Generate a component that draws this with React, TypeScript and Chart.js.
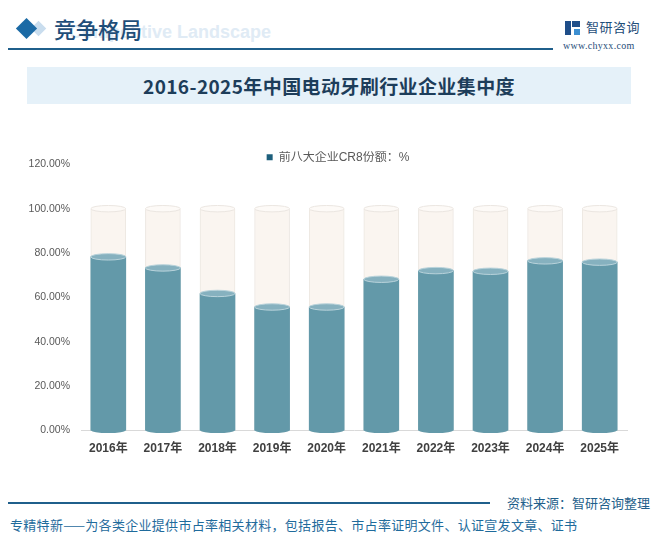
import { useEffect, useRef } from "react"
import Chart from "chart.js/auto"

// Data
const years = ["2016年", "2017年", "2018年", "2019年", "2020年", "2021年", "2022年", "2023年", "2024年", "2025年"]
const cr8Share = [78.3, 73.3, 61.8, 55.7, 55.7, 68.2, 72.1, 71.8, 76.5, 75.9]
const fullShare = [100, 100, 100, 100, 100, 100, 100, 100, 100, 100]
const seriesLabel = "前八大企业CR8份额：%"

const BODY = "#6399a9"
const BACK = "#faf5f0"
const LEGEND = "#1d5f7c"
const FONT = "'Liberation Sans', 'Noto Sans CJK SC', sans-serif"
const CJK = "'Noto Sans CJK SC', sans-serif"

// draws the elliptical top and bottom of each cylinder on the bar elements
const cylinderCaps = {
  id: "cylinderCaps",
  afterDatasetDraw(chart: any, args: any) {
    const { ctx } = chart
    const back = args.index === 1
    args.meta.data.forEach((bar: any) => {
      const { x, y, base, width } = bar.getProps(["x", "y", "base", "width"], true)
      const rx = width / 2
      ctx.save()
      ctx.beginPath()
      ctx.ellipse(x, base - 0.5, rx, 3, 0, 0, Math.PI)
      ctx.fillStyle = back ? BACK : BODY
      ctx.fill()
      ctx.beginPath()
      ctx.ellipse(x, y, rx, 3.2, 0, 0, Math.PI * 2)
      ctx.fillStyle = back ? "#fdfaf7" : "#86b1bf"
      ctx.fill()
      ctx.lineWidth = 1
      ctx.strokeStyle = back ? "#ebe6e1" : "#b9d3db"
      ctx.stroke()
      ctx.restore()
    })
  },
}

function CylinderChart() {
  const chartRef = useRef<HTMLCanvasElement>(null)
  const chartInstance = useRef<Chart | null>(null)

  useEffect(() => {
    if (!chartRef.current) return
    if (chartInstance.current) chartInstance.current.destroy()

    chartInstance.current = new Chart(chartRef.current, {
      type: "bar",
      data: {
        labels: years,
        datasets: [
          {
            label: seriesLabel,
            data: cr8Share,
            backgroundColor: BODY,
            borderWidth: 0,
            grouped: false,
            barThickness: 35,
          },
          {
            label: "背景",
            data: fullShare,
            backgroundColor: BACK,
            borderColor: "#ece7e2",
            borderWidth: { left: 1, right: 1, top: 0, bottom: 0 },
            borderSkipped: false,
            grouped: false,
            barThickness: 35,
          },
        ],
      },
      options: {
        responsive: true,
        maintainAspectRatio: false,
        animation: false,
        layout: { padding: { left: 17, right: 0, top: 0, bottom: 0 } },
        plugins: {
          tooltip: { enabled: false },
          legend: {
            position: "top",
            maxHeight: 13,
            labels: {
              padding: 0,
              boxWidth: 6,
              boxHeight: 6,
              color: "#595959",
              font: { size: 12, family: FONT },
              generateLabels: (chart: any) =>
                Chart.defaults.plugins.legend.labels
                  .generateLabels(chart)
                  .filter((l: any) => l.datasetIndex === 0)
                  .map((l: any) => ({ ...l, fillStyle: LEGEND, strokeStyle: LEGEND, lineWidth: 0 })),
            },
          },
        },
        scales: {
          x: {
            grid: { display: false, drawTicks: false },
            border: { color: "#d9d9d9" },
            ticks: {
              padding: 11,
              color: "#404040",
              font: { size: 12, weight: "bold", family: FONT },
            },
          },
          y: {
            min: 0,
            max: 120,
            grid: { display: false, drawTicks: false },
            border: { display: false },
            afterFit: (scale: any) => {
              scale.width = 64
            },
            ticks: {
              stepSize: 20,
              padding: 11,
              color: "#595959",
              font: { size: 10.5, family: FONT },
              callback: (v: any) => Number(v).toFixed(2) + "%",
            },
          },
          // empty right-hand margin box so the legend centres like the reference
          yRight: {
            type: "linear",
            position: "right",
            grid: { display: false, drawTicks: false },
            border: { display: false },
            ticks: { display: false },
            afterFit: (scale: any) => {
              scale.width = 32
            },
          },
        },
      },
      plugins: [cylinderCaps],
    })

    return () => {
      if (chartInstance.current) {
        chartInstance.current.destroy()
        chartInstance.current = null
      }
    }
  }, [])

  return (
    <div style={{ position: "absolute", left: 0, top: 147, width: 659, height: 320 }}>
      <canvas ref={chartRef}></canvas>
    </div>
  )
}

export default function App() {
  return (
    <div
      style={{
        position: "fixed",
        left: 0,
        top: 0,
        width: 659,
        height: 549,
        background: "#ffffff",
        overflow: "hidden",
        fontFamily: CJK,
      }}
    >
      {/* header */}
      <div
        style={{
          position: "absolute", left: 33, top: 23, width: 11, height: 11,
          background: "#c9ddee", transform: "rotate(45deg)",
        }}
      ></div>
      <div
        style={{
          position: "absolute", left: 19, top: 21, width: 15, height: 15,
          background: "#1b6aa5", transform: "rotate(45deg)",
        }}
      ></div>
      <div
        style={{
          position: "absolute", left: 69, top: 21, fontSize: 18, lineHeight: "22px",
          fontWeight: "bold", fontFamily: FONT, color: "#e0ebf5", whiteSpace: "nowrap",
        }}
      >
        Competitive Landscape
      </div>
      <div
        style={{
          position: "absolute", left: 54, top: 14, fontSize: 22, lineHeight: "28px",
          fontWeight: 500, color: "#1f4e79", whiteSpace: "nowrap",
        }}
      >
        竞争格局
      </div>
      <div style={{ position: "absolute", left: 8, top: 48, width: 545, height: 1.5, background: "#1f5f8b" }}></div>

      {/* logo */}
      <div style={{ position: "absolute", left: 565, top: 21, width: 6, height: 14, background: "#1f4e89" }}></div>
      <div style={{ position: "absolute", left: 572, top: 21, width: 8, height: 6, background: "#1f4e89" }}></div>
      <div style={{ position: "absolute", left: 574, top: 29, width: 6, height: 6, background: "#3d8fd1" }}></div>
      <div
        style={{
          position: "absolute", left: 586, top: 19, fontSize: 13, lineHeight: "16px",
          color: "#1f4e79", whiteSpace: "nowrap", letterSpacing: 0.5,
        }}
      >
        智研咨询
      </div>
      <div
        style={{
          position: "absolute", left: 563, top: 40, fontSize: 10, lineHeight: "12px",
          color: "#1f4e79", fontFamily: "'Liberation Serif', serif", whiteSpace: "nowrap", letterSpacing: 0.3,
        }}
      >
        www.chyxx.com
      </div>

      {/* title box */}
      <div
        style={{
          position: "absolute", left: 27, top: 67, width: 604, height: 37, background: "#e5f1f9",
          display: "flex", alignItems: "center", justifyContent: "center",
          fontSize: 19, fontWeight: "bold", color: "#1d3d5a", whiteSpace: "nowrap", letterSpacing: 0.4,
        }}
      >
        2016-2025年中国电动牙刷行业企业集中度
      </div>

      <CylinderChart />

      {/* footer */}
      <div style={{ position: "absolute", left: 8, top: 502, width: 482, height: 1.5, background: "#1f5f8b" }}></div>
      <div
        style={{
          position: "absolute", left: 507, top: 494, fontSize: 13, lineHeight: "18px",
          color: "#1f5f8b", whiteSpace: "nowrap",
        }}
      >
        资料来源：智研咨询整理
      </div>
      <div
        style={{
          position: "absolute", left: 10, top: 516, fontSize: 13, lineHeight: "18px",
          color: "#1f6b9c", whiteSpace: "nowrap", letterSpacing: 0.3,
        }}
      >
        专精特新——为各类企业提供市占率相关材料，包括报告、市占率证明文件、认证宣发文章、证书
      </div>
    </div>
  )
}
